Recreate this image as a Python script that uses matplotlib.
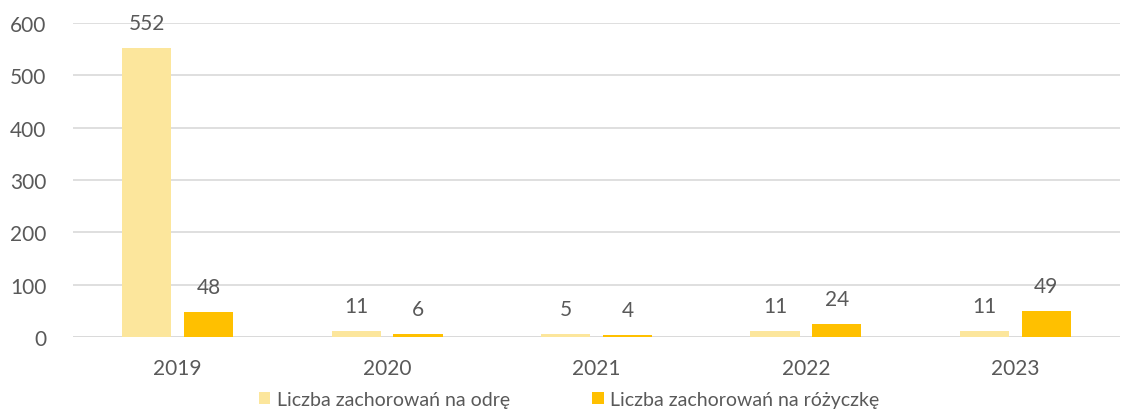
import numpy as np
from matplotlib import pyplot as plt

years = ["2019", "2020", "2021", "2022", "2023"]
measles = [552, 11, 5, 11, 11]
rubella = [48, 6, 4, 24, 49]

labels = ["Liczba zachorowań na odrę", "Liczba zachorowań na różyczkę"]
colors = ["#FCE69C", "#FFC000"]
text_color = "#595959"

plt.rcParams["font.family"] = ["Lato", "DejaVu Sans"]

fig = plt.figure(figsize=(11.45, 4.14), dpi=100)
ax = fig.add_axes([73 / 1145, 76 / 414, 1047 / 1145, 314 / 414])

x = np.arange(len(years))
w = 0.235
off = 0.148
b1 = ax.bar(x - off, measles, w, color=colors[0], label=labels[0], zorder=3)
b2 = ax.bar(x + off, rubella, w, color=colors[1], label=labels[1], zorder=3)

for bars in (b1, b2):
    for rect in bars:
        h = rect.get_height()
        ax.annotate(str(int(h)), (rect.get_x() + rect.get_width() / 2, h),
                    xytext=(0, 18), textcoords="offset points",
                    ha="center", va="center", fontsize=15, color=text_color)

ax.set_xlim(-0.5, len(years) - 0.5)
ax.set_ylim(0, 600)
ax.set_yticks(range(0, 601, 100))
ax.set_xticks(x)
ax.set_xticklabels(years)
ax.yaxis.grid(True, color="#D9D9D9", linewidth=1.2, zorder=0)
for s in ax.spines.values():
    s.set_visible(False)
ax.axhline(0, color="#D9D9D9", linewidth=1.2, zorder=2)
ax.tick_params(axis="both", length=0, labelsize=15, labelcolor=text_color)
ax.tick_params(axis="x", pad=15)
ax.tick_params(axis="y", pad=19)

fig.legend(loc="lower center", bbox_to_anchor=(0.497, -0.03), ncol=2, frameon=False,
           fontsize=14, labelcolor=text_color, handlelength=0.6, handleheight=0.6,
           handletextpad=0.35, columnspacing=4.2)

fig.savefig("out.png", dpi=100)
